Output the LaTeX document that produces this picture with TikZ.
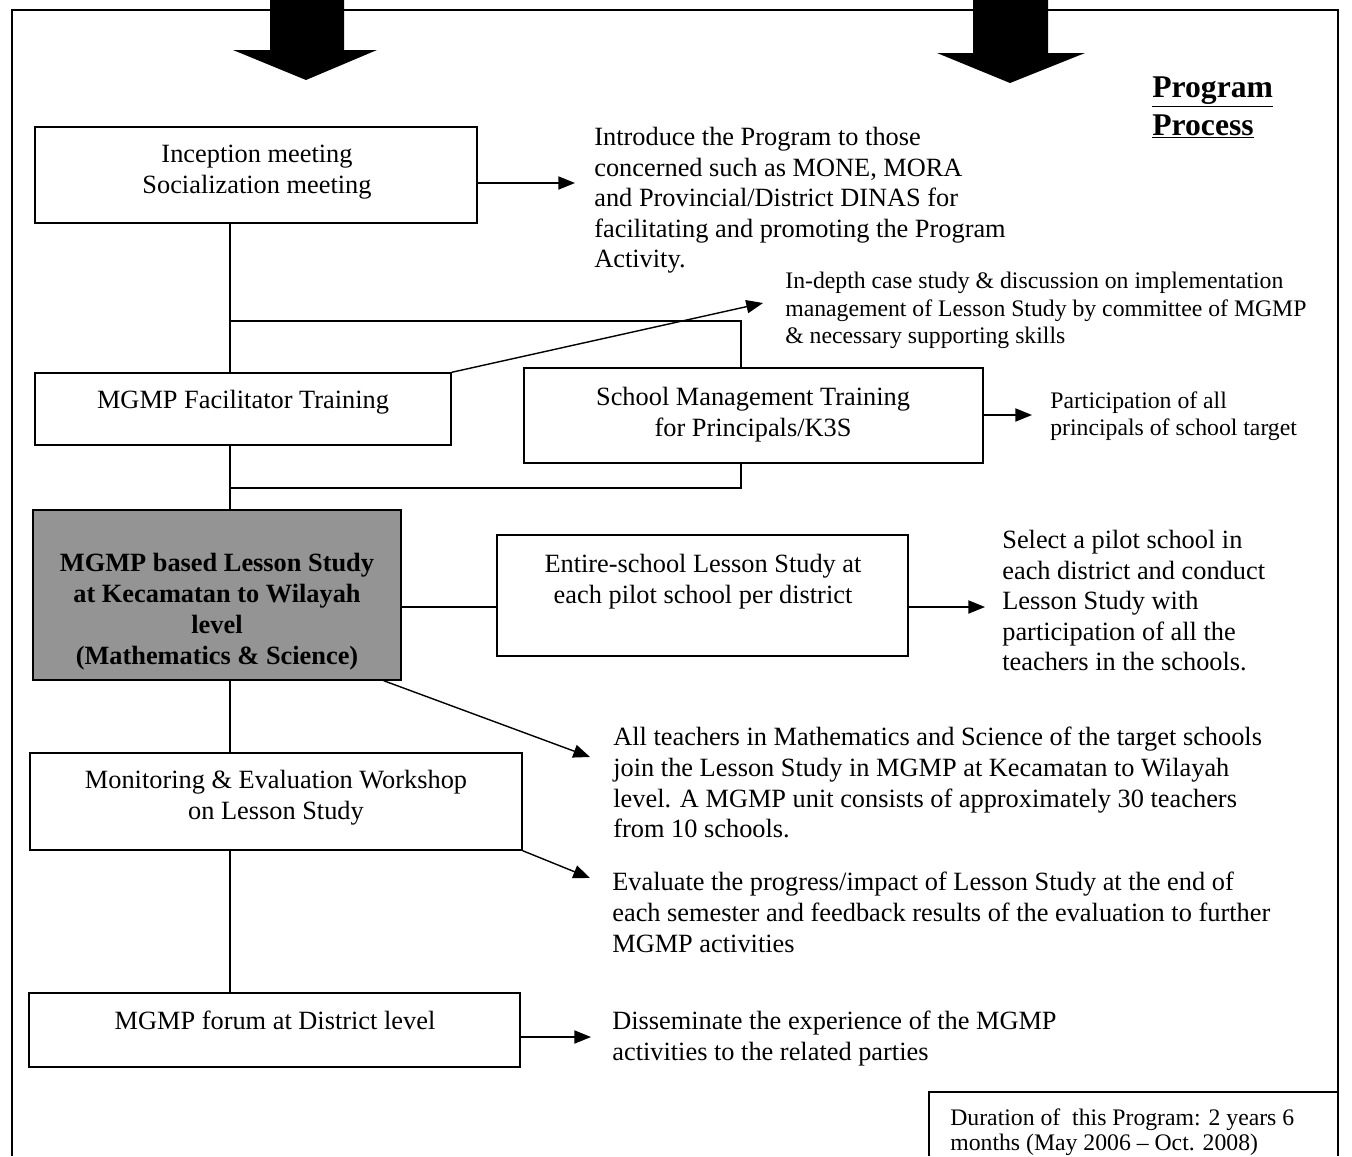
\documentclass[tikz,border=0pt]{standalone}
\usepackage{fontspec}
\setmainfont{Liberation Serif}
\usetikzlibrary{arrows.meta, positioning, calc}

\begin{document}
\begin{tikzpicture}[x=0.02cm, y=-0.02cm, box/.style={draw, line width=0.8pt,
      inner sep=0pt}, graybox/.style={box, fill=black!42}, link/.style={line
      width=0.8pt}, flow/.style={line width=0.8pt,
      -{Triangle[length=9.5pt,width=7.5pt]}}, boxtext/.style={anchor=north,
      align=center, inner sep=0pt, font=\fontsize{15}{17.3}\selectfont},
    note/.style={anchor=north west, align=left, inner sep=0pt,
      font=\fontsize{15}{17.4}\selectfont}, smallnote/.style={note,
      font=\fontsize{13.5}{15.6}\selectfont}, ]

    \useasboundingbox (0,0) rectangle (1352,1156);

    % Frame and big arrows
    \draw[link] (12,1156) |- (1338,10) -- (1338,1156);
    \fill (270,0) -- (270,50) -- (233,50) -- (306,80) -- (377,50) -- (344,50)
    -- (344,0) -- cycle; \fill (973,0) -- (973,53) -- (937,53) -- (1010,83) --
    (1085,53) -- (1048,53) -- (1048,0) -- cycle;

    % Title
    \node[anchor=north west, align=left, inner sep=0pt,
    font=\fontsize{18}{21.6}\selectfont\bfseries] (title) at (1152,76)
    {\underline{Program}\\\underline{Process}};

    % Boxes
    \node[box, minimum width=8.84cm, minimum height=1.92cm] (incep) at (256,175) {};
    \node[box, minimum width=8.32cm, minimum height=1.44cm] (ft) at (243,409) {};
    \node[box, minimum width=9.18cm, minimum height=1.90cm] (smt) at (753.5,415.5) {};
    \node[graybox, minimum width=7.36cm, minimum height=3.40cm] (lsbox) at (217,595) {};
    \node[box, minimum width=8.22cm, minimum height=2.42cm] (entire) at (702.5,595.5) {};
    \node[box, minimum width=9.84cm, minimum height=1.94cm] (monitor) at (276,801.5) {};
    \node[box, minimum width=9.82cm, minimum height=1.48cm] (forum) at (274.5,1030) {};

    % Labels inside boxes
    \node[boxtext] (incept) at (257,145) {Inception meeting\\Socialization meeting};
    \node[boxtext] (ftt) at (243,390) {MGMP Facilitator Training};
    \node[boxtext] (smtt) at (753,387) {School Management Training\\for Principals/K3S};
    \node[boxtext, font=\fontsize{15}{17.6}\selectfont\bfseries] (lst) at (217,553)
    {MGMP based Lesson Study\\at Kecamatan to Wilayah\\level\\(Mathematics \& Science)};
    \node[boxtext] (entiret) at (703,554) {Entire-school Lesson Study at\\each pilot school per district};
    \node[boxtext] (monitort) at (276,770) {Monitoring \& Evaluation Workshop\\on Lesson Study};
    \node[boxtext] (forumt) at (275,1011) {MGMP forum at District level};

    % Notes
    \node[note] (intro) at (594,127) {Introduce the Program to those\\concerned
    such as MONE, MORA\\and Provincial/District DINAS for\\facilitating and
    promoting the Program\\Activity.};
    \node[smallnote] (depth) at (785,272) {In-depth case study \& discussion on
    implementation\\management of Lesson Study by committee of MGMP\\\&
    necessary supporting skills};
    \node[smallnote] (part) at (1050,391) {Participation of all\\principals of
    school target};
    \node[note] (select) at (1002,530) {Select a pilot school in\\each district
    and conduct\\Lesson Study with\\participation of all the\\teachers in the
    schools.};
    \node[note] (allt) at (613,727) {All teachers in Mathematics and Science of
    the target schools\\join the Lesson Study in MGMP at Kecamatan to
    Wilayah\\level. A MGMP unit consists of approximately 30 teachers\\from 10
    schools.};
    \node[note] (eval) at (612,872) {Evaluate the progress/impact of Lesson
    Study at the end of\\each semester and feedback results of the evaluation
    to further\\MGMP activities};
    \node[note] (diss) at (612,1011) {Disseminate the experience of the
    MGMP\\activities to the related parties};
    \node[smallnote, font=\fontsize{13.5}{14.6}\selectfont] (dur) at (950,1108)
    {Duration of\ \ this Program: 2 years 6\\months (May 2006 – Oct. 2008)};
    \draw[link] (929,1156) |- (1338,1092);

    % Spine and branch
    \coordinate (spine) at (230,0); \coordinate (branch) at (741,0);
    \coordinate (jt) at (230,321); \coordinate (jb) at (230,488);
    \draw[link] (incep.south -| spine) -- (ft.north -| spine);
    \draw[link] (ft.south -| spine) -- (lsbox.north -| spine);
    \draw[link] (lsbox.south -| spine) -- (monitor.north -| spine);
    \draw[link] (monitor.south -| spine) -- (forum.north -| spine);
    \draw[link] (jt) -| (smt.north -| branch); \draw[link] (smt.south -|
    branch) |- (jb);

    % Arrow tips
    \coordinate (introtip) at (575,183); \coordinate (depthtip) at (763,303);
    \coordinate (parttip) at (1032,415); \coordinate (selecttip) at (985,607);
    \coordinate (allttip) at (590,757); \coordinate (evaltip) at (590,878);
    \coordinate (disstip) at (591,1037);

    % Arrows
    \draw[flow] (incep.east |- introtip) -- (introtip);
    \draw[flow] (ft.north east) -- (depthtip);
    \draw[flow] (smt.east |- parttip) -- (parttip);
    \draw[link] (lsbox.east |- selecttip) -- (entire.west |- selecttip);
    \draw[flow] (entire.east |- selecttip) -- (selecttip);
    \draw[flow] ([xshift=-0.36cm]lsbox.south east) -- (allttip);
    \draw[flow] (monitor.south east) -- (evaltip);
    \draw[flow] (forum.east |- disstip) -- (disstip);

\end{tikzpicture}
\end{document}
